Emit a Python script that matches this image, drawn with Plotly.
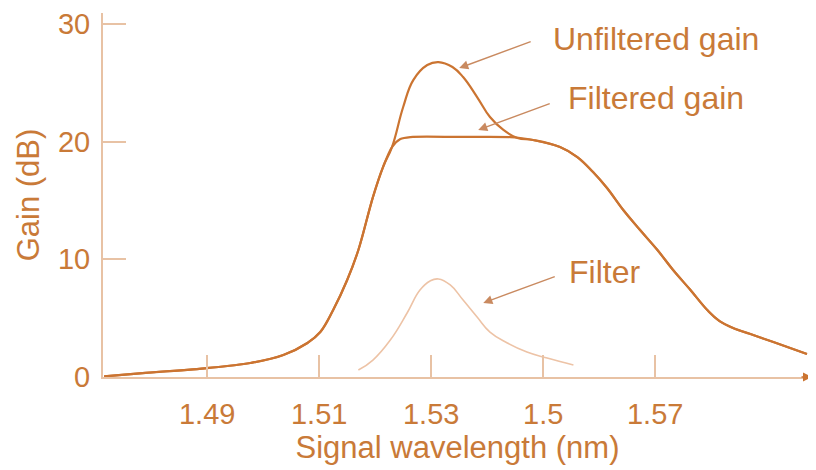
import plotly.graph_objects as go

# ---- data ----
unf_x = [1.4716, 1.4790, 1.4900, 1.4977, 1.5036, 1.5079, 1.5102, 1.5125, 1.5150, 1.5170,
         1.5196, 1.5214, 1.5230, 1.5250, 1.5268, 1.5293, 1.5313, 1.5338, 1.5357, 1.5382,
         1.5405, 1.5429, 1.5454, 1.5482, 1.5530, 1.5561, 1.5589, 1.5614, 1.5643, 1.5673,
         1.5704, 1.5732, 1.5763, 1.5793, 1.5815, 1.5840, 1.5870, 1.5911, 1.5971]
unf_y = [0.05, 0.35, 0.76, 1.19, 1.87, 2.89, 3.82, 5.69, 8.24, 10.79,
         15.29, 17.84, 19.54, 22.94, 25.23, 26.51, 26.76, 26.34, 25.49, 23.79,
         22.09, 20.99, 20.31, 20.14, 19.54, 18.69, 17.42, 16.06, 14.19, 12.49,
         10.79, 9.09, 7.39, 5.69, 4.75, 4.15, 3.65, 2.97, 1.95]

fil_x = [1.4716, 1.4790, 1.4900, 1.4977, 1.5036, 1.5079, 1.5102, 1.5125, 1.5150, 1.5170,
         1.5196, 1.5214, 1.5230, 1.5245, 1.5263, 1.5350, 1.5441, 1.5459, 1.5482, 1.5530,
         1.5561, 1.5589, 1.5614, 1.5643, 1.5673, 1.5704, 1.5732, 1.5763, 1.5793, 1.5815,
         1.5840, 1.5870, 1.5911, 1.5971]
fil_y = [0.05, 0.35, 0.76, 1.19, 1.87, 2.89, 3.82, 5.69, 8.24, 10.79,
         15.29, 17.84, 19.54, 20.22, 20.39, 20.40, 20.39, 20.31, 20.14, 19.54,
         18.69, 17.42, 16.06, 14.19, 12.49, 10.79, 9.09, 7.39, 5.69, 4.75,
         4.15, 3.65, 2.97, 1.95]

filter_x = [1.5170, 1.5196, 1.5227, 1.5257, 1.5280, 1.5298, 1.5313, 1.5334, 1.5357, 1.5382,
            1.5405, 1.5436, 1.5471, 1.5507, 1.5554]
filter_y = [0.59, 1.44, 3.14, 5.44, 7.39, 8.16, 8.33, 7.82, 6.54, 5.10,
            3.82, 2.89, 2.12, 1.61, 1.02]

x_tickvals = [1.49, 1.51, 1.53, 1.55, 1.57]
x_ticktext = ["1.49", "1.51", "1.53", "1.5", "1.57"]
y_tickvals = [0, 10, 20, 30]

labels = ["Unfiltered gain", "Filtered gain", "Filter"]
label_x = [1.5514, 1.5541, 1.5543]
label_y = [28.70, 23.75, 8.95]
arrow_x = [1.5350, 1.5384, 1.5393]
arrow_y = [26.25, 20.99, 6.29]

# ---- style ----
TXT = "#C97A38"
CURVE = "#CB7431"
LIGHT = "#EDC3A6"
AXIS = "#E8C2A4"
FONT = "Liberation Sans, Arial, sans-serif"

fig = go.Figure()
fig.add_trace(go.Scatter(x=unf_x, y=unf_y, mode="lines", name="Unfiltered gain",
                         line=dict(color=CURVE, width=2.2, shape="spline", smoothing=1.2),
                         hoverinfo="skip"))
fig.add_trace(go.Scatter(x=fil_x, y=fil_y, mode="lines", name="Filtered gain",
                         line=dict(color=CURVE, width=2.2, shape="spline", smoothing=0.8),
                         hoverinfo="skip"))
fig.add_trace(go.Scatter(x=filter_x, y=filter_y, mode="lines", name="Filter",
                         line=dict(color=LIGHT, width=1.6, shape="spline", smoothing=1.3),
                         hoverinfo="skip"))

annotations = []
for t, lx, ly, axp, ayp in zip(labels, label_x, label_y, arrow_x, arrow_y):
    annotations.append(dict(x=lx, y=ly, xref="x", yref="y", text=t, showarrow=False,
                            xanchor="left", yanchor="middle",
                            font=dict(family=FONT, size=32, color=TXT)))
    annotations.append(dict(x=axp, y=ayp, xref="x", yref="y", text="", showarrow=True,
                            ax=73, ay=-27, axref="pixel", ayref="pixel",
                            arrowhead=2, arrowsize=1.3, arrowwidth=1.4,
                            arrowcolor="#C98A60", standoff=0))
# x-axis arrow head
annotations.append(dict(x=1.0, y=0, xref="paper", yref="y", text="", showarrow=True,
                        ax=-12, ay=0, arrowhead=2, arrowsize=1.2, arrowwidth=1.5,
                        arrowcolor=CURVE, standoff=0))

# the page adds an 8px body margin, so the figure is sized to fit the window
fig.update_layout(
    width=808, height=462,
    margin=dict(l=95, r=4, t=5, b=93, autoexpand=False),
    paper_bgcolor="white", plot_bgcolor="white",
    showlegend=False,
    annotations=annotations,
    xaxis=dict(range=[1.4714, 1.5980], tickvals=x_tickvals, ticktext=x_ticktext,
               ticks="inside", ticklen=22, tickwidth=1.5, tickcolor=AXIS,
               showline=True, linecolor=AXIS, linewidth=2, automargin=False,
               showgrid=False, zeroline=False, ticklabelstandoff=10,
               tickfont=dict(family=FONT, size=29, color=TXT),
               title=dict(text="Signal wavelength (nm)", standoff=0,
                          font=dict(family=FONT, size=31, color=TXT))),
    yaxis=dict(range=[0, 30.93], tickvals=y_tickvals,
               ticks="inside", ticklen=23, tickwidth=1.5, tickcolor=AXIS,
               showline=True, linecolor=AXIS, linewidth=2, automargin=False,
               showgrid=False, zeroline=False, ticklabelstandoff=5,
               tickfont=dict(family=FONT, size=29, color=TXT),
               title=dict(text="Gain (dB)", standoff=9,
                          font=dict(family=FONT, size=31, color=TXT))),
)

fig.write_html("out.html")
